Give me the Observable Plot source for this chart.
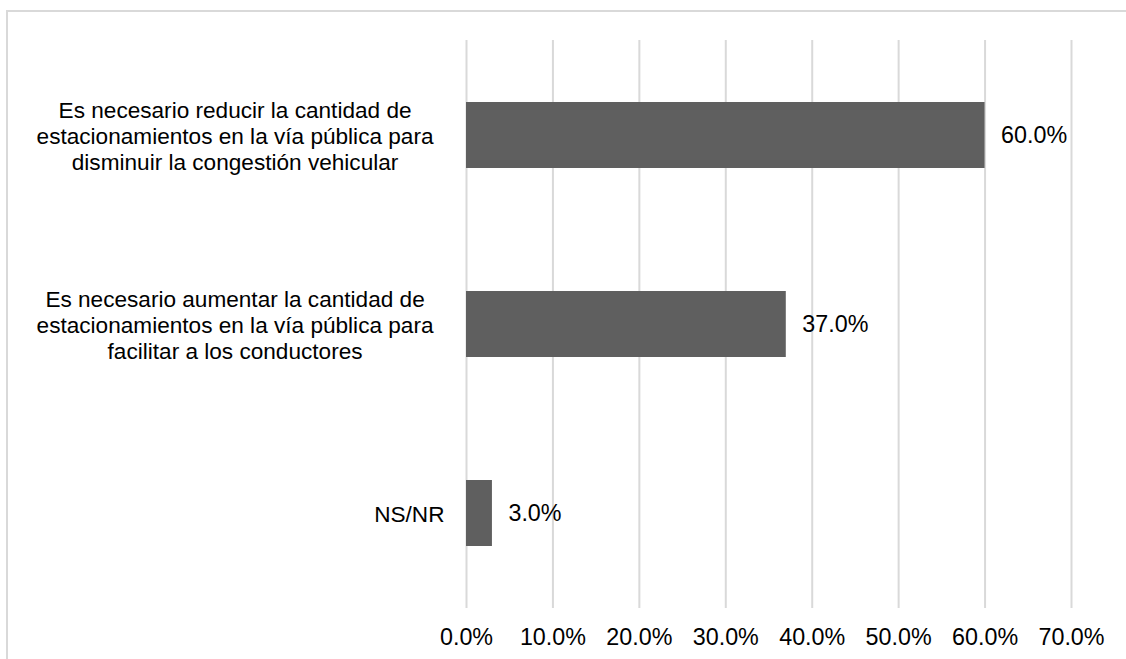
<!DOCTYPE html>
<html>
<head>
<meta charset="utf-8">
<script src="https://cdn.jsdelivr.net/npm/d3@7"></script>
<script src="https://cdn.jsdelivr.net/npm/@observablehq/plot@0.6"></script>
<style>
  html, body { margin: 0; padding: 0; background: #fff; }
  #wrap { position: relative; width: 1126px; height: 659px; overflow: hidden; }
  #border { position: absolute; left: 6px; top: 10px; width: 1200px; height: 800px; border: 2px solid #d9d9d9; box-sizing: border-box; }
  #chart { position: absolute; left: 0; top: 0; }
</style>
</head>
<body>
<div id="wrap"><div id="border"></div><div id="chart"></div></div>
<script>
const categories = [
  "Es necesario reducir la cantidad de\nestacionamientos en la vía pública para\ndisminuir la congestión vehicular",
  "Es necesario aumentar la cantidad de\nestacionamientos en la vía pública para\nfacilitar a los conductores",
  "NS/NR"
];
const values = [60.0, 37.0, 3.0];
const xTicks = [0, 10, 20, 30, 40, 50, 60, 70];

const data = categories.map((c, i) => ({category: c, value: values[i]}));
const fmt = d => d.toFixed(1) + "%";

const FONT_SIZE = 23.3;
const LABEL_SIZE = 22.6;
const FONT_FAMILY = "Liberation Sans, Arial, sans-serif";

// measure label widths so that multi-line labels are centred as a block, right-aligned
const ctx = document.createElement("canvas").getContext("2d");
ctx.font = `${LABEL_SIZE}px ${FONT_FAMILY}`;
function labelMark(d) {
  const lines = d.category.split("\n");
  const maxW = d3.max(lines, l => ctx.measureText(l).width);
  const gap = lines.length > 1 ? 33 : 22;
  return Plot.text([d], {
    x: () => 0, y: "category", text: "category",
    textAnchor: "middle", dx: -(gap + maxW / 2),
    lineHeight: 1.16, fontSize: LABEL_SIZE, fill: "#000"
  });
}

const chart = Plot.plot({
  width: 1126,
  height: 659,
  marginLeft: 466,
  marginRight: 55,
  marginTop: 40,
  marginBottom: 51,
  style: {fontFamily: FONT_FAMILY, fontSize: FONT_SIZE + "px", color: "#000", background: "transparent"},
  x: {domain: [0, 70], ticks: xTicks, tickFormat: fmt, label: null},
  y: {domain: categories, paddingInner: 0.65, paddingOuter: 0.325, axis: null, label: null},
  marks: [
    Plot.ruleX(xTicks, {stroke: "#d9d9d9", strokeWidth: 2}),
    Plot.barX(data, {x: "value", y: "category", fill: "#5f5f5f"}),
    ...data.map(labelMark),
    Plot.text(data, {x: "value", y: "category", text: d => fmt(d.value), textAnchor: "start", dx: 16, fontSize: FONT_SIZE, fill: "#000"}),
    Plot.axisX({ticks: xTicks, tickFormat: fmt, tickSize: 0, tickPadding: 20, fontSize: FONT_SIZE, label: null, fill: "#000"})
  ]
});
document.getElementById("chart").appendChild(chart);
</script>
</body>
</html>
